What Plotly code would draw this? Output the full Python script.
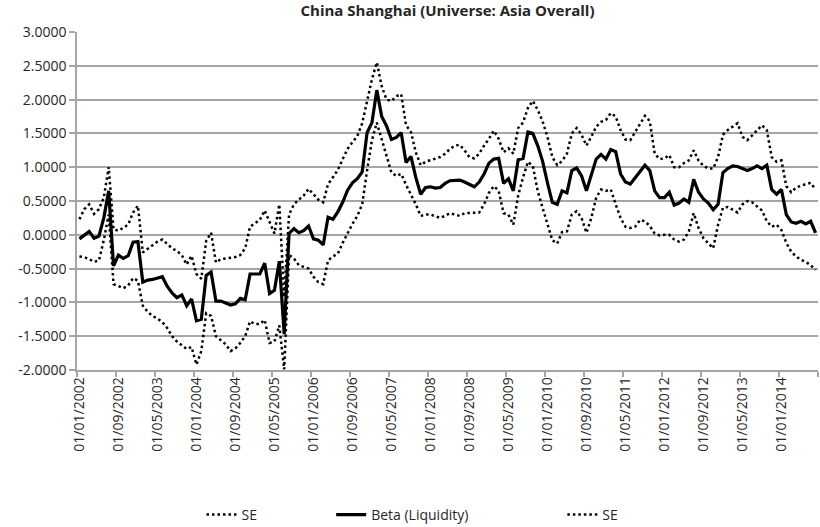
import plotly.graph_objects as go

# Monthly liquidity beta for China Shanghai, Jan 2002 onwards, with SE bands
beta = [
    -0.06, -0.01, 0.05, -0.05, -0.02, 0.25, 0.65, -0.46, -0.30, -0.35,
    -0.31, -0.11, -0.10, -0.70, -0.67, -0.66, -0.64, -0.62, -0.76, -0.86,
    -0.93, -0.89, -1.05, -0.95, -1.27, -1.25, -0.60, -0.55, -0.98, -0.98,
    -1.01, -1.04, -1.02, -0.94, -0.96, -0.58, -0.58, -0.58, -0.42, -0.87,
    -0.82, -0.39, -1.47, 0.02, 0.09, 0.03, 0.06, 0.13, -0.06, -0.08,
    -0.15, 0.26, 0.23, 0.34, 0.48, 0.66, 0.77, 0.83, 0.93, 1.51,
    1.66, 2.14, 1.75, 1.61, 1.41, 1.44, 1.51, 1.07, 1.16, 0.85,
    0.60, 0.70, 0.71, 0.69, 0.70, 0.76, 0.80, 0.81, 0.81, 0.78,
    0.75, 0.71, 0.78, 0.90, 1.06, 1.12, 1.13, 0.76, 0.83, 0.65,
    1.11, 1.13, 1.52, 1.50, 1.32, 1.09, 0.77, 0.48, 0.45, 0.65,
    0.62, 0.95, 0.99, 0.87, 0.65, 0.90, 1.12, 1.19, 1.12, 1.26,
    1.23, 0.90, 0.78, 0.75, 0.85, 0.95, 1.03, 0.95, 0.65, 0.55,
    0.55, 0.63, 0.44, 0.47, 0.53, 0.48, 0.82, 0.63, 0.53, 0.47,
    0.37, 0.45, 0.92, 0.98, 1.02, 1.01, 0.98, 0.95, 0.98, 1.02,
    0.98, 1.03, 0.67, 0.60, 0.67, 0.30, 0.19, 0.17, 0.20, 0.16,
    0.20, 0.03,
]

se_upper = [
    0.23, 0.38, 0.45, 0.31, 0.38, 0.55, 1.00, 0.08, 0.06, 0.11,
    0.15, 0.33, 0.43, -0.26, -0.21, -0.15, -0.10, -0.07, -0.13, -0.20,
    -0.24, -0.30, -0.44, -0.31, -0.58, -0.65, -0.09, 0.03, -0.41, -0.36,
    -0.35, -0.34, -0.33, -0.30, -0.20, 0.12, 0.17, 0.22, 0.36, 0.20,
    0.02, 0.45, -0.92, 0.30, 0.45, 0.52, 0.58, 0.68, 0.60, 0.52,
    0.48, 0.75, 0.85, 0.96, 1.12, 1.27, 1.37, 1.46, 1.65, 2.00,
    2.30, 2.55, 2.20, 2.00, 1.98, 2.05, 2.08, 1.62, 1.52, 1.22,
    1.03, 1.08, 1.10, 1.12, 1.15, 1.20, 1.27, 1.32, 1.33, 1.25,
    1.15, 1.13, 1.20, 1.32, 1.42, 1.54, 1.42, 1.22, 1.28, 1.20,
    1.58, 1.66, 1.88, 1.98, 1.85, 1.68, 1.45, 1.15, 1.03, 1.09,
    1.20, 1.50, 1.58, 1.48, 1.32, 1.45, 1.60, 1.67, 1.70, 1.80,
    1.75, 1.55, 1.41, 1.40, 1.52, 1.65, 1.76, 1.68, 1.20, 1.12,
    1.13, 1.18, 1.00, 1.00, 1.06, 1.10, 1.25, 1.10, 1.02, 0.98,
    0.98, 1.15, 1.48, 1.55, 1.60, 1.65, 1.45, 1.40, 1.47, 1.55,
    1.62, 1.55, 1.15, 1.08, 1.10, 0.72, 0.63, 0.70, 0.73, 0.75,
    0.77, 0.67,
]

se_lower = [
    -0.32, -0.33, -0.36, -0.40, -0.38, -0.08, 0.30, -0.73, -0.76, -0.79,
    -0.75, -0.64, -0.68, -1.05, -1.14, -1.20, -1.24, -1.29, -1.38, -1.50,
    -1.58, -1.64, -1.69, -1.66, -1.92, -1.72, -1.16, -1.20, -1.50, -1.56,
    -1.62, -1.72, -1.68, -1.60, -1.50, -1.28, -1.32, -1.32, -1.26, -1.60,
    -1.58, -1.34, -1.99, -0.30, -0.35, -0.45, -0.48, -0.50, -0.62, -0.70,
    -0.73, -0.38, -0.32, -0.28, -0.12, 0.03, 0.16, 0.28, 0.45, 0.95,
    1.40, 1.66, 1.40, 1.15, 0.92, 0.87, 0.90, 0.74, 0.60, 0.45,
    0.28, 0.30, 0.30, 0.27, 0.25, 0.28, 0.32, 0.30, 0.28, 0.32,
    0.32, 0.33, 0.33, 0.45, 0.62, 0.72, 0.65, 0.32, 0.30, 0.15,
    0.58, 0.85, 1.08, 1.02, 0.65, 0.40, 0.15, -0.08, -0.13, 0.04,
    0.05, 0.30, 0.35, 0.25, 0.03, 0.25, 0.55, 0.67, 0.65, 0.67,
    0.45, 0.25, 0.12, 0.10, 0.12, 0.22, 0.20, 0.13, 0.02, -0.01,
    0.00, 0.00, -0.07, -0.10, -0.07, 0.05, 0.32, 0.10, -0.05, -0.13,
    -0.20, 0.15, 0.40, 0.41, 0.37, 0.33, 0.45, 0.50, 0.48, 0.42,
    0.36, 0.20, 0.12, 0.15, 0.07, -0.12, -0.25, -0.32, -0.37, -0.40,
    -0.45, -0.52,
]

date_labels = [
    "01/01/2002", "01/09/2002", "01/05/2003", "01/01/2004", "01/09/2004",
    "01/05/2005", "01/01/2006", "01/09/2006", "01/05/2007", "01/01/2008",
    "01/09/2008", "01/05/2009", "01/01/2010", "01/09/2010", "01/05/2011",
    "01/01/2012", "01/09/2012", "01/05/2013", "01/01/2014",
]
label_step = 8  # one label every eight months

y_ticks = [-2.0, -1.5, -1.0, -0.5, 0.0, 0.5, 1.0, 1.5, 2.0, 2.5, 3.0]

FONT = "Open Sans"
GRID = "#a6a6a6"
TEXT = "#262626"

months = list(range(len(beta)))
label_pos = list(range(0, len(beta), label_step))[: len(date_labels)]
boundary_ticks = [k - 0.5 for k in range(0, len(beta) + 1, label_step)]

dotted = dict(color="#000000", width=2.5, dash="2.5px,3px")

fig = go.Figure()
fig.add_trace(go.Scatter(x=months, y=se_lower, mode="lines", name="SE",
                         line=dotted, legend="legend", showlegend=True))
fig.add_trace(go.Scatter(x=months, y=beta, mode="lines", name="Beta (Liquidity)",
                         line=dict(color="#000000", width=3.2), legend="legend2",
                         showlegend=True))
fig.add_trace(go.Scatter(x=months, y=se_upper, mode="lines", name="SE",
                         line=dotted, legend="legend3", showlegend=True))

# legends sit in the bottom band of the page, positioned in container units
legend_common = dict(orientation="h", yref="container", y=1 - 515 / 527,
                     yanchor="middle", xanchor="left",
                     font=dict(family=FONT, size=14, color=TEXT),
                     bgcolor="rgba(0,0,0,0)", borderwidth=0, visible=True)

fig.update_layout(
    width=820, height=527,
    margin=dict(l=77, r=2, t=32, b=157, autoexpand=False),
    paper_bgcolor="white", plot_bgcolor="white",
    showlegend=True,
    title=dict(text="<b>China Shanghai (Universe: Asia Overall)</b>",
               x=0.5, xref="paper", xanchor="center",
               y=1 - 11 / 527, yref="container", yanchor="middle",
               font=dict(family=FONT, size=15, color=TEXT)),
    legend=dict(x=0.168, **legend_common),
    legend2=dict(x=0.343, **legend_common),
    legend3=dict(x=0.655, **legend_common),
    xaxis=dict(
        range=[-0.5, len(beta) - 0.5], automargin=False,
        tickmode="array", tickvals=label_pos, ticktext=date_labels,
        tickangle=-90, ticks="", showgrid=False, zeroline=False,
        showline=True, linecolor=GRID, linewidth=1.5,
        tickfont=dict(family=FONT, size=14, color=TEXT),
        minor=dict(tickmode="array", tickvals=boundary_ticks, ticks="outside",
                   ticklen=5, tickcolor=GRID, tickwidth=1.5, showgrid=False),
    ),
    yaxis=dict(
        range=[-2.0, 3.0], automargin=False,
        tickmode="array", tickvals=y_ticks,
        ticktext=[f"{v:.4f}" for v in y_ticks],
        ticks="outside", ticklen=6, tickcolor=GRID, tickwidth=1.5,
        showgrid=True, gridcolor=GRID, gridwidth=1.5, zeroline=False,
        showline=True, linecolor=GRID, linewidth=1.5,
        tickfont=dict(family=FONT, size=14, color=TEXT),
    ),
)

fig.write_html("out.html")
